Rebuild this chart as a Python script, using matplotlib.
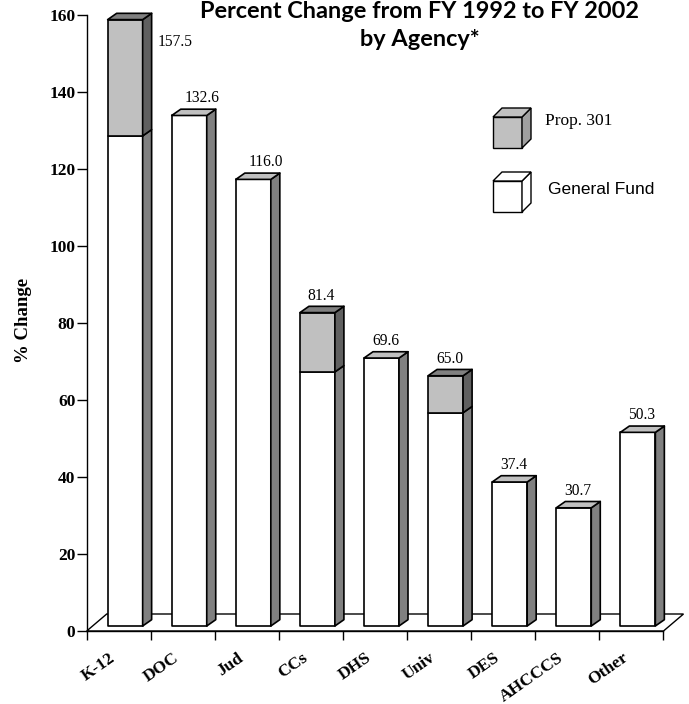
import matplotlib
matplotlib.use("Agg")
import matplotlib.pyplot as plt
from matplotlib.patches import Polygon

# ---------------- data ----------------
categories = ["K-12", "DOC", "Jud", "CCs", "DHS", "Univ", "DES", "AHCCCS", "Other"]
general_fund = [127.3, 132.6, 116.0, 66.0, 69.6, 55.4, 37.4, 30.7, 50.3]
prop_301 = [30.2, 0.0, 0.0, 15.4, 0.0, 9.6, 0.0, 0.0, 0.0]
totals = [157.5, 132.6, 116.0, 81.4, 69.6, 65.0, 37.4, 30.7, 50.3]
total_labels = ["157.5", "132.6", "116.0", "81.4", "69.6", "65.0", "37.4", "30.7", "50.3"]
yticks = [0, 20, 40, 60, 80, 100, 120, 140, 160]
title_lines = ["Percent Change from FY 1992 to FY 2002", "by Agency*"]
legend_labels = ["Prop. 301", "General Fund"]

W, H = 689, 704
fig = plt.figure(figsize=(W / 100, H / 100), dpi=100)

# axes geometry (pixels)
x0_px, x1_px = 86.7, 663.5
y0_px, y1_px = 631.0, 15.0
ax = fig.add_axes([x0_px / W, 1 - y0_px / H, (x1_px - x0_px) / W, (y0_px - y1_px) / H])
n = len(categories)
ax.set_xlim(0, n)
ax.set_ylim(0, 160)
ux = (x1_px - x0_px) / n      # px per x unit
uy = (y0_px - y1_px) / 160.0  # px per y unit

SERIF = ["Liberation Serif", "DejaVu Serif"]

for s in ["top", "right"]:
    ax.spines[s].set_visible(False)
ax.spines["left"].set_linewidth(1.0)
ax.spines["bottom"].set_linewidth(1.0)
ax.patch.set_alpha(0)
ax.set_yticks(yticks)
ax.set_yticklabels([str(t) for t in yticks], fontfamily=SERIF, fontweight="bold", fontsize=12.5)
ax.tick_params(axis="y", direction="out", length=7.2, width=1.0, pad=1)
ax.set_xticks(range(n + 1))
ax.set_xticklabels([])
ax.tick_params(axis="x", direction="out", length=6.5, width=1.0)

# floor parallelogram
fdx, fdy = 20 / ux, 17 / uy
floor = Polygon([(0, 0), (n, 0), (n + fdx, fdy), (fdx, fdy)], closed=True,
                facecolor="white", edgecolor="black", lw=1.0, zorder=1, clip_on=False)
ax.add_patch(floor)

# bar geometry
ox, oy = 6.4 / ux, 5.0 / uy
bw = 35 / ux
ddx, ddy = 9 / ux, 6.3 / uy
LW = 1.2


def box(xl, yb, yt, front, side, top, draw_top=True):
    xr = xl + bw
    ax.add_patch(Polygon([(xl, yb), (xr, yb), (xr, yt), (xl, yt)], closed=True,
                         facecolor=front, edgecolor="black", lw=LW, zorder=3,
                         clip_on=False, joinstyle="round"))
    ax.add_patch(Polygon([(xr, yb), (xr + ddx, yb + ddy), (xr + ddx, yt + ddy), (xr, yt)],
                         closed=True, facecolor=side, edgecolor="black", lw=LW, zorder=3,
                         clip_on=False, joinstyle="round"))
    if draw_top:
        ax.add_patch(Polygon([(xl, yt), (xr, yt), (xr + ddx, yt + ddy), (xl + ddx, yt + ddy)],
                             closed=True, facecolor=top, edgecolor="black", lw=LW, zorder=3,
                             clip_on=False, joinstyle="round"))


for i in range(n):
    xl = i + 0.5 - bw / 2 + ox
    g = general_fund[i]
    p = prop_301[i]
    box(xl, oy, oy + g, "white", "#808080", "#c0c0c0", draw_top=(p == 0))
    if p > 0:
        box(xl, oy + g, oy + g + p, "#c0c0c0", "#606060", "#808080")

# value labels
for i in range(n):
    top = oy + totals[i]
    xc = i + 0.5 + ox
    if i == 0:
        ax.text(xc + bw / 2 + 15 / ux, top - 22 / uy, total_labels[i], ha="left",
                va="center", fontfamily=SERIF, fontsize=11.2, zorder=5, clip_on=False)
    else:
        off = (13 if len(total_labels[i]) > 4 else 4) / ux
        ax.text(xc + off, top + 13 / uy, total_labels[i], ha="center", va="baseline",
                fontfamily=SERIF, fontsize=11.2, zorder=5, clip_on=False)

# category labels
for i, c in enumerate(categories):
    ax.text(i + 0.5 - 10 / ux, -19 / uy, c, rotation=35, rotation_mode="anchor",
            ha="right", va="top", fontfamily=SERIF, fontweight="bold", fontsize=12.5,
            clip_on=False)

# y label
fig.text(24 / W, 1 - 320 / H, "% Change", rotation=90, ha="center", va="center",
         fontfamily=SERIF, fontweight="bold", fontsize=13.5)

# overlay in pixel coordinates for legend and title
ov = fig.add_axes([0, 0, 1, 1])
ov.set_xlim(0, W)
ov.set_ylim(H, 0)
ov.axis("off")
ov.patch.set_alpha(0)


def cube(x, y, w, h, d, front, side, top):
    ov.add_patch(Polygon([(x, y), (x + w, y), (x + w, y + h), (x, y + h)], closed=True,
                         facecolor=front, edgecolor="black", lw=1.0))
    ov.add_patch(Polygon([(x + w, y), (x + w + d, y - d), (x + w + d, y + h - d), (x + w, y + h)],
                         closed=True, facecolor=side, edgecolor="black", lw=1.0))
    ov.add_patch(Polygon([(x, y), (x + d, y - d), (x + w + d, y - d), (x + w, y)], closed=True,
                         facecolor=top, edgecolor="black", lw=1.0))


cube(493, 117, 29, 31, 9, "#c0c0c0", "#a0a0a0", "#c0c0c0")
cube(493, 181, 29, 31, 9, "white", "white", "white")
ov.text(545, 121, legend_labels[0], ha="left", va="center", fontfamily=SERIF, fontsize=12.5)
ov.text(548, 190, legend_labels[1], ha="left", va="center",
        fontfamily=["Liberation Sans", "DejaVu Sans"], fontsize=12.5)

# title
TF = ["Lato", "DejaVu Sans"]
t1 = ov.text(420, 18, title_lines[0], ha="center", va="baseline", fontfamily=TF,
             fontweight="bold", fontsize=17)
t2 = ov.text(420, 46, title_lines[1], ha="center", va="baseline", fontfamily=TF,
             fontweight="bold", fontsize=17)
fig.canvas.draw()
wpx = t1.get_window_extent().width
fs = 17 * 440 / wpx
t1.set_fontsize(fs)
t2.set_fontsize(fs)

fig.savefig("out.png", dpi=100)
